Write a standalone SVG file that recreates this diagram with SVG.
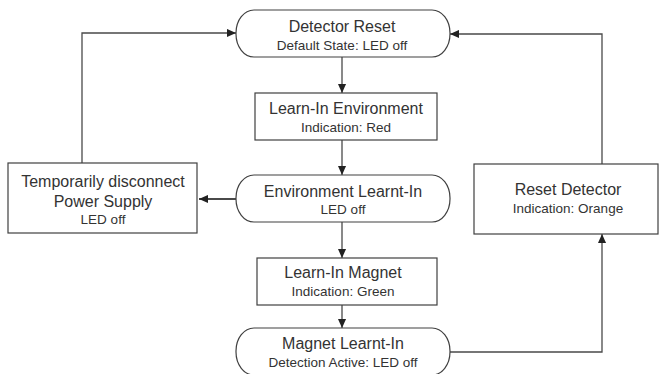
<svg xmlns="http://www.w3.org/2000/svg" width="659" height="374" viewBox="0 0 659 374">
<style>
.shape{fill:#fff;stroke:#404040;stroke-width:1.2}
.t{font-family:"Liberation Sans",Arial,sans-serif;font-size:16px;fill:#333;text-anchor:middle}
.s{font-family:"Liberation Sans",Arial,sans-serif;font-size:13.5px;fill:#333;text-anchor:middle}
.c{fill:none;stroke:#4a4a4a;stroke-width:1.3}
</style>
<defs>
<marker id="ah" viewBox="0 0 10 10" refX="10" refY="5" markerWidth="9" markerHeight="9" markerUnits="userSpaceOnUse" orient="auto">
<path d="M0,0.5 L10,5 L0,9.5 z" fill="#222"/>
</marker>
</defs>
<rect width="659" height="374" fill="#fff"/>
<g id="connectors">
<line class="c" x1="342" y1="57" x2="342" y2="93" marker-end="url(#ah)"/>
<line class="c" x1="342" y1="140" x2="342" y2="175" marker-end="url(#ah)"/>
<line class="c" x1="342" y1="222" x2="342" y2="258" marker-end="url(#ah)"/>
<line class="c" x1="342" y1="305" x2="342" y2="328" marker-end="url(#ah)"/>
<line class="c" x1="236" y1="199" x2="199" y2="199" marker-end="url(#ah)" style="stroke-width:2"/>
<polyline class="c" points="82,163 82,33 236,33" marker-end="url(#ah)"/>
<polyline class="c" points="602,164 602,34 450,34" marker-end="url(#ah)"/>
<polyline class="c" points="450,352 602,352 602,234" marker-end="url(#ah)"/>
</g>
<g id="detector-reset">
<rect class="shape" x="236" y="10" width="214" height="47" rx="18" ry="23"/>
<text class="t" x="342" y="32">Detector Reset</text>
<text class="s" x="342" y="50">Default State: LED off</text>
</g>
<g id="learn-in-environment">
<rect class="shape" x="255" y="93" width="182" height="47"/>
<text class="t" x="346" y="114">Learn-In Environment</text>
<text class="s" x="346" y="132">Indication: Red</text>
</g>
<g id="environment-learnt-in">
<rect class="shape" x="236" y="175" width="214" height="47" rx="18" ry="23"/>
<text class="t" x="343" y="197">Environment Learnt-In</text>
<text class="s" x="343" y="214">LED off</text>
</g>
<g id="learn-in-magnet">
<rect class="shape" x="257" y="258" width="180" height="47"/>
<text class="t" x="343" y="278">Learn-In Magnet</text>
<text class="s" x="343" y="296">Indication: Green</text>
</g>
<g id="magnet-learnt-in">
<rect class="shape" x="236" y="328" width="214" height="47" rx="18" ry="23"/>
<text class="t" x="343" y="349">Magnet Learnt-In</text>
<text class="s" x="343" y="367">Detection Active: LED off</text>
</g>
<g id="temporarily-disconnect">
<rect class="shape" x="8" y="163" width="189" height="70"/>
<text class="t" x="103" y="187">Temporarily disconnect</text>
<text class="t" x="103" y="207">Power Supply</text>
<text class="s" x="103" y="224">LED off</text>
</g>
<g id="reset-detector">
<rect class="shape" x="474" y="164" width="184" height="70"/>
<text class="t" x="568" y="195">Reset Detector</text>
<text class="s" x="568" y="213">Indication: Orange</text>
</g>
</svg>
